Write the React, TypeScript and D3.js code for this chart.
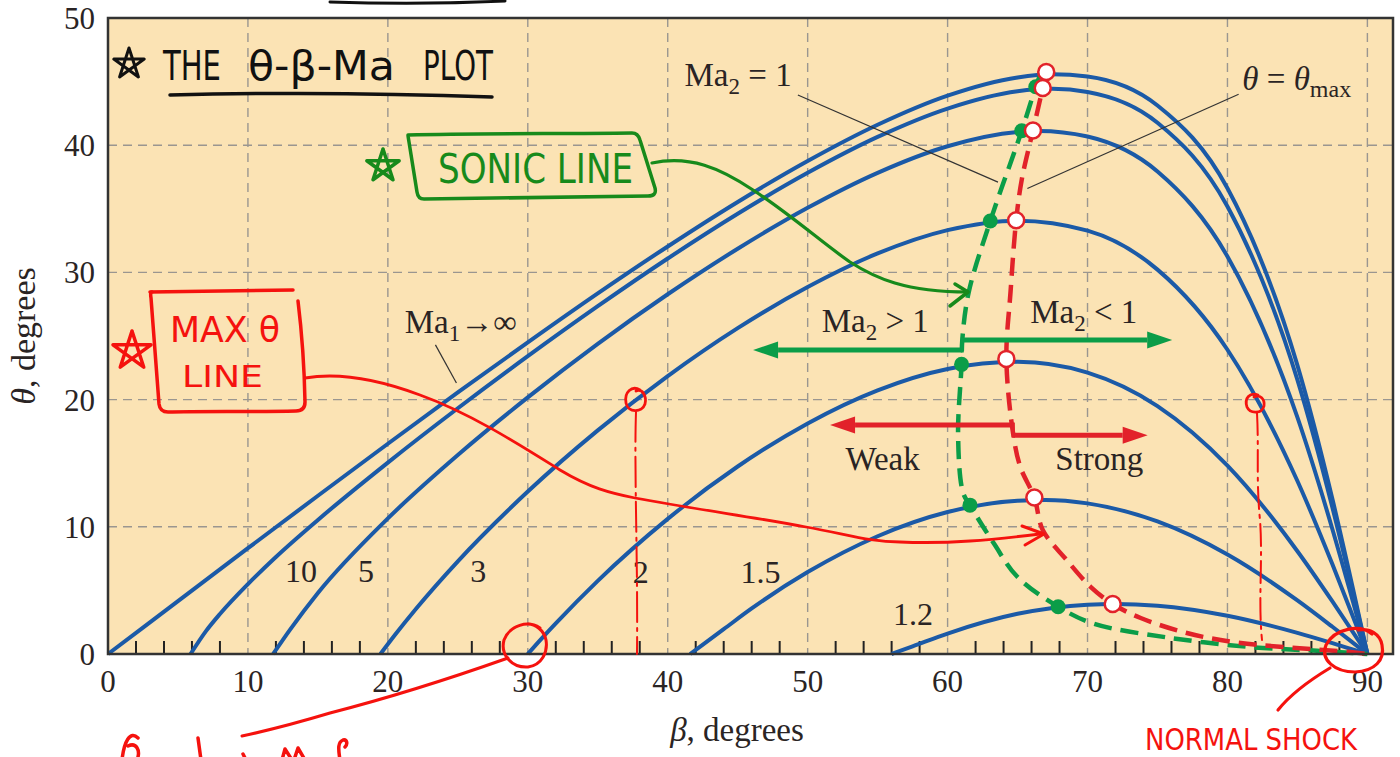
import React, { useEffect, useRef } from 'react'
import * as d3 from 'd3'

const W = 1400
const H = 757

// Mach number of each blue curve
const machNames = ['∞', '10', '5', '3', '2', '1.5', '1.2']

// [beta, theta] in degrees
const machInf = [[0, 0], [5, 4.16], [10, 8.32], [15, 12.44], [20, 16.53], [25, 20.56], [30, 24.5], [35, 28.35], [40, 32.04], [45, 35.54], [50, 38.76], [55, 41.61], [60, 43.9], [65, 45.33], [67.5, 45.58], [70, 45.4], [75, 43.12], [80, 36.61], [85, 22.69], [87.5, 12.18], [89, 4.98], [90, 0]]
const mach10 = [[5.9, 0], [7, 1.8], [8, 3.15], [10, 5.5], [12, 7.63], [15, 10.54], [20, 15.05], [25, 19.32], [30, 23.41], [35, 27.34], [40, 31.09], [45, 34.61], [50, 37.83], [55, 40.65], [60, 42.88], [65, 44.24], [67.5, 44.43], [70, 44.18], [75, 41.76], [80, 35.18], [85, 21.55], [87.5, 11.51], [89, 4.7], [90, 0]]
const mach5 = [[11.8, 0], [13, 1.9], [15, 4.8], [20, 10.66], [25, 15.64], [30, 20.17], [35, 24.38], [40, 28.28], [45, 31.86], [50, 35.08], [55, 37.83], [60, 39.92], [65, 41.04], [66.5, 41.12], [70, 40.68], [75, 37.93], [80, 31.25], [85, 18.6], [87.5, 9.81], [89, 3.99], [90, 0]]
const mach3 = [[19.47, 0], [20.5, 1.49], [22, 3.54], [25, 7.29], [30, 12.77], [35, 17.58], [40, 21.85], [45, 25.62], [50, 28.85], [55, 31.49], [60, 33.32], [65, 34.07], [70, 33.28], [75, 30.22], [80, 23.92], [85, 13.6], [87.5, 7.05], [89, 2.85], [90, 0]]
const mach2 = [[30, 0], [31, 1.23], [32, 2.41], [35, 5.75], [40, 10.62], [45, 14.74], [50, 18.13], [55, 20.73], [60, 22.41], [65, 22.97], [70, 22.12], [75, 19.49], [80, 14.81], [85, 8.08], [87.5, 4.13], [89, 1.66], [90, 0]]
const mach15 = [[41.6, 0], [44, 1.95], [46, 3.58], [50, 6.44], [55, 9.26], [60, 11.16], [65, 12.05], [67, 12.11], [70, 11.84], [75, 10.42], [80, 7.82], [85, 4.21], [87.5, 2.14], [89, 0.86], [90, 0]]
const mach12 = [[56, 0], [57.5, 0.6], [60, 1.61], [65, 3.16], [70, 3.88], [72, 3.94], [75, 3.8], [80, 3.01], [85, 1.66], [87.5, 0.85], [89, 0.34], [90, 0]]
const machCurves = [machInf, mach10, mach5, mach3, mach2, mach15, mach12]

// theta = theta_max points (open red circles) and the red dashed line through them
const maxPoints = [[67.05, 45.75], [66.8, 44.5], [66.1, 41.15], [64.9, 34.1], [64.2, 23.2], [66.2, 12.3], [71.8, 3.93]]
const maxLine = [[67.05, 45.75], [66.8, 44.5], [66.1, 41.15], [65.3, 37.3], [64.9, 34.1], [64.5, 28.5], [64.2, 23.2], [64.7, 17.2], [65.2, 14.7], [66.2, 12.3], [66.8, 9.75], [68.5, 7.4], [70.2, 5.3], [71.8, 3.93], [73.8, 2.83], [77.1, 1.65], [80.4, 0.94], [84, 0.55], [88.8, 0.15], [90, 0]]

// Ma2 = 1 points (green dots) and the green dashed sonic line
const sonicPoints = [[66.3, 44.6], [65.3, 41.14], [63.05, 34.04], [61.0, 22.77], [61.6, 11.7], [67.9, 3.72]]
const sonicLine = [[66.6, 45.5], [66.3, 44.6], [65.3, 41.14], [63.05, 34.04], [61.5, 28.4], [61.05, 24.7], [61.0, 22.77], [60.75, 17.2], [61.1, 12.7], [61.6, 11.7], [63.3, 8.7], [65.0, 6.05], [67.9, 3.72], [70.4, 2.4], [75.7, 1.3], [81.6, 0.55], [86.4, 0.25], [90, 0]]

const xTicks = [0, 10, 20, 30, 40, 50, 60, 70, 80, 90]
const yTicks = [0, 10, 20, 30, 40, 50]

const SERIF = "'Liberation Serif', 'Times New Roman', serif"
const HAND = "'DejaVu Sans', sans-serif"
const BLUE = '#1b5aa7'
const GREEN = '#0b9d48'
const RED = '#e2222a'
const HRED = '#f5120e'
const HGREEN = '#178a1b'
const INK = '#2a2424'

function star(cx: number, cy: number, r: number) {
  const pts: [number, number][] = []
  for (let k = 0; k < 6; k++) {
    const a = (-90 + k * 144) * Math.PI / 180
    pts.push([cx + r * Math.cos(a), cy + r * Math.sin(a)])
  }
  return d3.line()(pts)
}

const App = () => {
  const ref = useRef<SVGSVGElement>(null)

  useEffect(() => {
    const svg = d3.select(ref.current)
    svg.selectAll('*').remove()

    const x = d3.scaleLinear().domain([0, 91.83]).range([108, 1393])
    const y = d3.scaleLinear().domain([0, 50]).range([654, 18])
    const [x0, x1] = x.range()
    const [yb, yt] = y.range()

    svg.append('rect').attr('width', W).attr('height', H).attr('fill', '#fff')
    svg.append('rect')
      .attr('x', x0).attr('y', yt).attr('width', x1 - x0).attr('height', yb - yt)
      .attr('fill', '#fbe3b4')

    // grid
    const grid = svg.append('g').attr('stroke', '#9a9690').attr('stroke-width', 1.4).attr('stroke-dasharray', '9 6')
    grid.selectAll('.gx').data(xTicks.filter(d => d > 0)).enter().append('line')
      .attr('x1', d => x(d)).attr('x2', d => x(d)).attr('y1', yt).attr('y2', yb)
    grid.selectAll('.gy').data(yTicks.filter(d => d > 0 && d < 50)).enter().append('line')
      .attr('y1', d => y(d)).attr('y2', d => y(d)).attr('x1', x0).attr('x2', x1)

    // minor ticks on the beta axis
    svg.append('g').selectAll('line').data(d3.range(2, 90, 2).filter(d => d % 10 !== 0)).enter().append('line')
      .attr('x1', d => x(d)).attr('x2', d => x(d)).attr('y1', yb).attr('y2', yb - 13)
      .attr('stroke', '#222').attr('stroke-width', 2)

    const line = d3.line().x(d => x(d[0])).y(d => y(d[1]))

    // Mach curves
    svg.append('g').selectAll('path').data(machCurves).enter().append('path')
      .attr('d', d => line.curve(d3.curveMonotoneX)(d as [number, number][]))
      .attr('fill', 'none').attr('stroke', BLUE).attr('stroke-width', 4)

    const cr = d3.line().x(d => x(d[0])).y(d => y(d[1])).curve(d3.curveCatmullRom.alpha(0.5))
    svg.append('path').attr('d', cr(sonicLine as [number, number][]))
      .attr('fill', 'none').attr('stroke', GREEN).attr('stroke-width', 4.5).attr('stroke-dasharray', '18 9')
    svg.append('path').attr('d', cr(maxLine as [number, number][]))
      .attr('fill', 'none').attr('stroke', RED).attr('stroke-width', 4.5).attr('stroke-dasharray', '18 9')

    svg.append('g').selectAll('circle').data(sonicPoints).enter().append('circle')
      .attr('cx', d => x(d[0])).attr('cy', d => y(d[1])).attr('r', 7.5).attr('fill', GREEN)
    svg.append('g').selectAll('circle').data(maxPoints).enter().append('circle')
      .attr('cx', d => x(d[0])).attr('cy', d => y(d[1])).attr('r', 8)
      .attr('fill', '#fff').attr('stroke', RED).attr('stroke-width', 2.5)

    // region arrows: from beta, to beta, at theta
    const arrow = (b0: number, b1: number, th: number, color: string) => {
      const sx = x(b0), tx = x(b1), sy = y(th)
      const dir = tx > sx ? 1 : -1
      const hl = 25, hw = 8.5
      svg.append('line').attr('x1', sx).attr('x2', tx - dir * hl).attr('y1', sy).attr('y2', sy)
        .attr('stroke', color).attr('stroke-width', 5)
      svg.append('path')
        .attr('d', `M${tx},${sy}L${tx - dir * hl},${sy - hw}L${tx - dir * hl},${sy + hw}Z`)
        .attr('fill', color)
    }
    arrow(61.05, 46.1, 23.9, GREEN)
    arrow(61.05, 76.05, 24.69, GREEN)
    svg.append('line').attr('x1', x(61.05)).attr('x2', x(61.05)).attr('y1', y(24.69) - 2.5).attr('y2', y(23.9) + 2.5)
      .attr('stroke', GREEN).attr('stroke-width', 3)
    arrow(64.7, 51.6, 18.0, RED)
    arrow(64.7, 74.3, 17.2, RED)
    svg.append('line').attr('x1', x(64.7)).attr('x2', x(64.7)).attr('y1', y(18.0) - 2.5).attr('y2', y(17.2) + 2.5)
      .attr('stroke', RED).attr('stroke-width', 3)

    // leader lines
    const leaders = [[[49.3, 43.95], [63.6, 37.1]], [[80.8, 44.0], [65.7, 36.6]], [[23.4, 24.3], [24.9, 21.3]]]
    svg.append('g').selectAll('path').data(leaders).enter().append('path')
      .attr('d', d => d3.line().x(p => x(p[0])).y(p => y(p[1]))(d as [number, number][]))
      .attr('stroke', '#333').attr('stroke-width', 1.2).attr('fill', 'none')

    // Mach labels
    const machLabelPos = [[12.65, 5.66], [17.87, 5.66], [25.88, 5.66], [37.5, 5.58], [45.2, 5.58], [56.1, 2.28]]
    svg.append('g').selectAll('text').data(machNames.slice(1)).enter().append('text')
      .attr('x', (d, i) => x(machLabelPos[i][0])).attr('y', (d, i) => y(machLabelPos[i][1]))
      .attr('font-family', SERIF).attr('font-size', 32).attr('fill', INK).text(d => d)

    const label = (b: number, th: number) => svg.append('text').attr('x', x(b)).attr('y', y(th))
      .attr('font-family', SERIF).attr('font-size', 33).attr('fill', INK)
    const maLabel = (b: number, th: number, sub: string, rest: string) => {
      const t = label(b, th)
      t.append('tspan').text('Ma')
      t.append('tspan').attr('font-size', 23).attr('dy', 8).text(sub)
      t.append('tspan').attr('dy', -8).text(rest)
    }
    maLabel(21.2, 25.24, '1', '→∞')
    maLabel(41.2, 44.65, '2', ' = 1')
    maLabel(51.0, 25.3, '2', ' > 1')
    maLabel(65.9, 26.0, '2', ' < 1')
    const tm = label(81.06, 44.34)
    tm.append('tspan').attr('font-style', 'italic').text('θ')
    tm.append('tspan').text(' = ')
    tm.append('tspan').attr('font-style', 'italic').text('θ')
    tm.append('tspan').attr('font-size', 24).attr('dy', 7).text('max')
    label(52.7, 14.47).text('Weak')
    label(67.7, 14.47).text('Strong')

    // frame
    svg.append('rect')
      .attr('x', x0).attr('y', yt).attr('width', x1 - x0).attr('height', yb - yt)
      .attr('fill', 'none').attr('stroke', '#333').attr('stroke-width', 2.5)

    // tick labels
    svg.append('g').selectAll('text').data(xTicks).enter().append('text')
      .attr('x', d => x(d)).attr('y', 692).attr('text-anchor', 'middle')
      .attr('font-family', SERIF).attr('font-size', 31).attr('fill', INK).text(d => d)
    svg.append('g').selectAll('text').data(yTicks).enter().append('text')
      .attr('x', 95).attr('y', d => y(d) + 11).attr('text-anchor', 'end')
      .attr('font-family', SERIF).attr('font-size', 31).attr('fill', INK).text(d => d)

    const xt = svg.append('text').attr('x', 737).attr('y', 741).attr('text-anchor', 'middle')
      .attr('font-family', SERIF).attr('font-size', 33).attr('fill', INK)
    xt.append('tspan').attr('font-style', 'italic').text('β')
    xt.append('tspan').text(', degrees')
    const yt2 = svg.append('text').attr('transform', 'translate(35,336) rotate(-90)').attr('text-anchor', 'middle')
      .attr('font-family', SERIF).attr('font-size', 34).attr('fill', INK)
    yt2.append('tspan').attr('font-style', 'italic').text('θ')
    yt2.append('tspan').text(', degrees')

    // handwritten notes
    const hand = svg.append('g').attr('fill', 'none').attr('stroke-linecap', 'round').attr('stroke-linejoin', 'round')
    const pen = (d: string, color: string, w = 3.2, dash?: string) => {
      const p = hand.append('path').attr('d', d).attr('stroke', color).attr('stroke-width', w)
      if (dash) p.attr('stroke-dasharray', dash)
    }
    const write = (s: string, px: number, py: number, len: number, size: number, color: string) =>
      svg.append('text').attr('x', px).attr('y', py).attr('textLength', len).attr('lengthAdjust', 'spacingAndGlyphs')
        .attr('font-family', HAND).attr('font-size', size).attr('fill', color).text(s)

    pen('M330,2 Q420,5 505,1', '#111', 3)
    pen(star(129, 64, 16) as string, '#111', 3)
    write('THE', 163, 80, 58, 40, '#111')
    write('θ-β-Ma', 248, 80, 147, 40, '#111')
    write('PLOT', 423, 80, 70, 40, '#111')
    pen('M170,95 Q330,91 492,97', '#111', 3.5)

    pen(star(383, 166, 17) as string, HGREEN, 3.5)
    pen('M408,135 C480,133 560,134 632,133 Q638,133 640,140 L655,188 Q657,196 648,196 C560,197 480,198 424,199 Q418,199 417,192 L409,142 Q408,136 408,135 Z', HGREEN, 3.5)
    write('SONIC LINE', 438, 183, 195, 40, HGREEN)
    pen('M652,163 C690,155 720,168 753,190 C790,214 825,245 850,262 C875,278 905,292 968,292', HGREEN, 3.2)
    pen('M955,284 L968,292 L950,306', HGREEN, 3.5)

    pen(star(132, 351, 20) as string, HRED, 3.5)
    pen('M150,292 L293,290', HRED, 3.5)
    pen('M298,301 Q304,350 305,402 Q305,411 296,411 C250,412 200,411 168,412 Q160,412 159,404 L151,298 Q150,292 152,292', HRED, 3.5)
    write('MAX θ', 170, 342, 110, 36, HRED)
    write('LINE', 182, 387, 81, 30, HRED)
    pen('M305,378 C340,372 380,380 420,395 C470,413 520,445 560,470 C590,488 610,493 635,498 C700,510 760,518 806,527 C850,535 870,542 900,542 C950,544 990,540 1040,534', HRED, 2.8)
    pen('M1022,526 L1044,534 L1025,545', HRED, 3)

    pen('M640,390 C632,385 624,392 626,403 C628,413 642,413 645,404 C647,396 642,388 636,391', HRED, 2.8)
    pen('M636,412 C634,470 638,560 637,654', HRED, 2, '30 6 3 6')
    pen('M1258,395 C1250,392 1244,398 1247,407 C1250,414 1262,414 1264,406 C1265,399 1260,394 1254,397', HRED, 2.8)
    pen('M1257,413 C1259,450 1256,480 1260,520 C1263,560 1258,600 1262,640', HRED, 2, '22 6 3 6')

    pen('M540,628 C528,620 510,625 504,640 C500,655 512,668 528,667 C542,665 548,652 546,640 C544,630 535,624 528,624', HRED, 3)
    pen('M508,658 C460,675 400,695 330,713 C300,722 270,730 242,736', HRED, 3)
    pen('M138,738 C130,730 124,742 122,760 M128,746 C136,742 141,750 137,760', HRED, 3.5)
    pen('M198,738 L201,760 M243,754 L246,760', HRED, 3.5)
    pen('M282,760 L285,749 L292,760 M294,760 L298,748 L305,760', HRED, 3.5)
    pen('M340,760 C338,748 338,742 343,740 C347,739 348,744 345,747', HRED, 3.5)

    pen('M1372,634 C1360,624 1335,628 1326,645 C1320,660 1335,672 1355,672 C1375,671 1385,660 1382,645 C1380,634 1370,628 1358,630', HRED, 3.2)
    pen('M1330,668 C1310,680 1290,695 1278,710', HRED, 3.2)
    write('NORMAL SHOCK', 1145, 750, 212, 31, HRED)
  }, [])

  return (
    <svg ref={ref} width={W} height={H} style={{ position: 'absolute', left: 0, top: 0, display: 'block' }} />
  )
}

export default App
